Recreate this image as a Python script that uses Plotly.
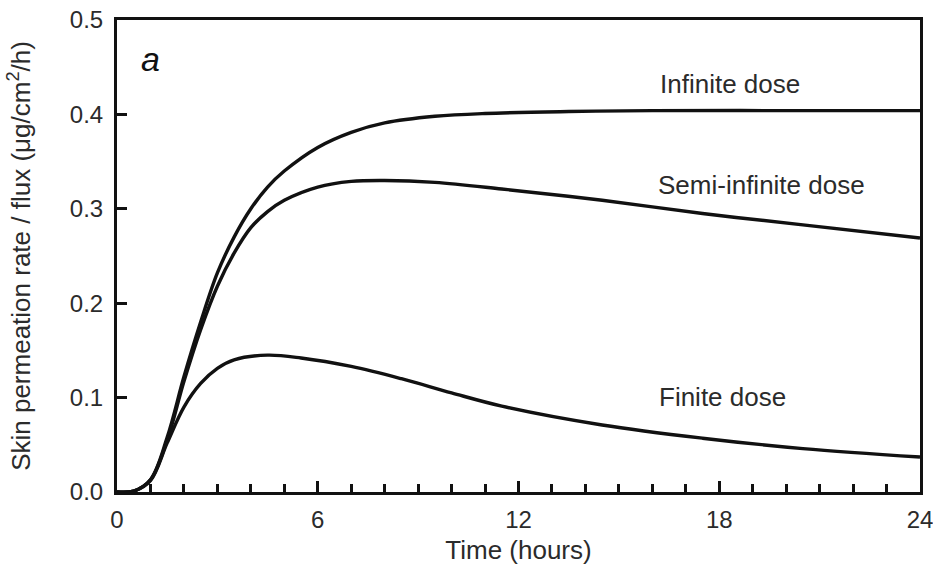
import plotly.graph_objects as go

# Data
inf_t = [0, 0.5, 1, 1.5, 2, 2.5, 3, 3.5, 4, 4.5, 5, 6, 7, 8, 9.5, 11, 13.5, 16, 20, 24]
inf_v = [0, 0.001, 0.013, 0.058, 0.122, 0.180, 0.232, 0.270, 0.300, 0.323, 0.340, 0.365, 0.381, 0.391, 0.398, 0.401, 0.403, 0.404, 0.404, 0.404]

semi_t = [0, 0.5, 1, 1.5, 2, 2.5, 3, 3.5, 4, 4.5, 5, 6, 7, 8, 9.5, 11.5, 14.5, 17.5, 20.5, 24]
semi_v = [0, 0.001, 0.013, 0.055, 0.117, 0.172, 0.218, 0.253, 0.280, 0.297, 0.309, 0.323, 0.329, 0.330, 0.328, 0.321, 0.309, 0.295, 0.283, 0.269]

fin_t = [0, 0.5, 1, 1.5, 2, 2.5, 3, 3.5, 4.5, 5.5, 7, 8.5, 10, 11.5, 14.5, 17.5, 20.5, 24]
fin_v = [0, 0.001, 0.012, 0.052, 0.090, 0.115, 0.131, 0.140, 0.145, 0.142, 0.133, 0.120, 0.105, 0.091, 0.071, 0.057, 0.046, 0.037]

labels = ["Infinite dose", "Semi-infinite dose", "Finite dose"]
label_pos = [(18.32, 0.432), (19.25, 0.325), (18.11, 0.1006)]

FONT = "Liberation Sans, Arial, sans-serif"
TXT = "#2b2b2b"

fig = go.Figure()
for t, v, name in [(inf_t, inf_v, labels[0]), (semi_t, semi_v, labels[1]), (fin_t, fin_v, labels[2])]:
    fig.add_trace(go.Scatter(x=t, y=v, mode="lines", name=name,
                             line=dict(color="#111111", width=3.4, shape="spline", smoothing=1.0),
                             showlegend=False, hoverinfo="skip"))

for name, (x, y) in zip(labels, label_pos):
    fig.add_annotation(x=x, y=y, text=name, showarrow=False, xanchor="center", yanchor="middle",
                       font=dict(family=FONT, size=26, color=TXT))

fig.add_annotation(x=0.042, y=0.918, xref="paper", yref="paper", text="<i>a</i>",
                   showarrow=False, xanchor="center", yanchor="middle",
                   font=dict(family=FONT, size=34, color="#111111"))

fig.update_layout(
    width=933, height=575,
    margin=dict(l=117, r=13, t=20, b=83),
    plot_bgcolor="white", paper_bgcolor="white",
    font=dict(family=FONT, size=24, color=TXT),
)
fig.update_xaxes(range=[0, 24], tickvals=[0, 6, 12, 18, 24], ticks="inside", ticklen=11, tickwidth=3,
                 tickcolor="#111111", showline=True, linewidth=3, linecolor="#111111", mirror=True,
                 showgrid=False, zeroline=False, ticklabelstandoff=4, automargin=False,
                 ticklabeloverflow="allow",
                 minor=dict(dtick=1, ticks="inside", ticklen=8, tickwidth=3, tickcolor="#111111", showgrid=False),
                 title=dict(text="Time (hours)", font=dict(size=26, color=TXT), standoff=10),
                 tickfont=dict(size=24, color=TXT))
fig.update_yaxes(range=[0, 0.5], dtick=0.1, tickformat=".1f", ticks="inside", ticklen=10, tickwidth=3,
                 tickcolor="#111111", showline=True, linewidth=3, linecolor="#111111", mirror=True,
                 showgrid=False, zeroline=False, ticklabelstandoff=6, automargin=False,
                 ticklabeloverflow="allow",
                 title=dict(text="Skin permeation rate / flux (μg/cm<sup>2</sup>/h)", font=dict(size=26, color=TXT), standoff=32),
                 tickfont=dict(size=24, color=TXT))

fig.write_html("out.html")
